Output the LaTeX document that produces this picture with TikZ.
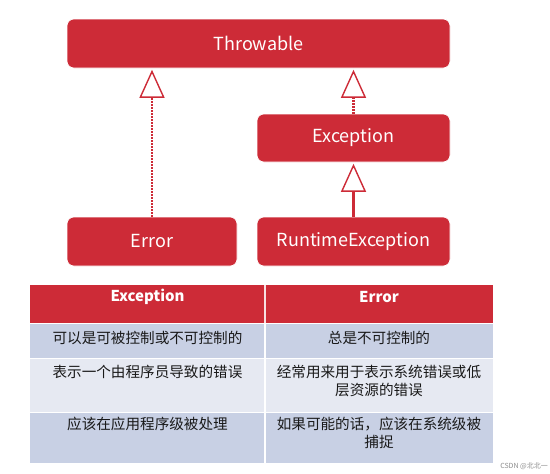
\documentclass[tikz,border=0pt]{standalone}
\usepackage{fontspec}
\setmainfont{Noto Sans CJK SC}
\usetikzlibrary{arrows.meta}
\definecolor{jred}{HTML}{CD2B37}
\definecolor{rowdark}{HTML}{C8D0E4}
\definecolor{rowlight}{HTML}{E6E9F2}
\begin{document}
\begin{tikzpicture}[x=1pt,y=-1pt,
  cls/.style={rectangle, rounded corners=7pt, fill=jred, draw=white, line width=0.6pt,
    text=white, font=\fontsize{18}{20}\selectfont, inner sep=0pt},
  inherit/.style={draw=jred, line width=2.2pt,
    -{Triangle[open, length=28pt, width=25pt, line width=1.4pt, fill=white]}, shorten >=1.5pt},
  dots/.style={dash pattern=on 1.6pt off 1.4pt},
  cell/.style={align=center, text width=215pt, font=\fontsize{14.6}{18}\selectfont, text=black!90, anchor=north, inner sep=0pt},
  head/.style={text=white, font=\fontsize{15}{18}\selectfont\bfseries, inner sep=0pt}]
\useasboundingbox (0,0) rectangle (550,474);
\fill[white] (0,0) rectangle (550,474);

% class boxes
\node[cls, minimum width=383pt, minimum height=49pt] (thr) at (258.5,43.5) {Throwable};
\node[cls, minimum width=193pt, minimum height=48pt] (exc) at (353.5,138) {Exception};
\node[cls, minimum width=170pt, minimum height=49pt] (err) at (152,241.5) {Error};
\node[cls, minimum width=193pt, minimum height=49pt] (rte) at (353.5,241.5) {RuntimeException};

% inheritance arrows
\draw[inherit, dots] (err.north) -- (err.north |- thr.south);
\draw[inherit, dots] (exc.north) -- (exc.north |- thr.south);
\draw[inherit] (rte.north) -- (exc.south);

% table
\fill[jred] (30,285) rectangle (493,323);
\fill[rowdark] (30,323) rectangle (493,358);
\fill[rowlight] (30,358) rectangle (493,412);
\fill[rowdark] (30,412) rectangle (493,463);
\draw[white, line width=1pt] (30,323) -- (493,323) (30,358) -- (493,358) (30,412) -- (493,412);
\draw[white!85!jred, line width=1.2pt] (265,285) -- (265,323);
\draw[white, line width=1.2pt] (265,323) -- (265,463);

\node[head] (h1) at (147.5,297) {Exception};
\node[head] (h2) at (379,297) {Error};

\node[cell] (a1) at (147.5,330.5) {可以是可被控制或不可控制的};
\node[cell] (b1) at (379,330.5) {总是不可控制的};
\node[cell] (a2) at (147.5,364.5) {表示一个由程序员导致的错误};
\node[cell] (b2) at (379,364.5) {经常用来用于表示系统错误或低\\层资源的错误};
\node[cell] (a3) at (147.5,416.5) {应该在应用程序级被处理};
\node[cell] (b3) at (379,416.5) {如果可能的话，应该在系统级被\\捕捉};

\node[text=black!45, font=\fontsize{7}{8}\selectfont, anchor=east, inner sep=0pt] (wm) at (548,466) {CSDN @北北一};
\end{tikzpicture}
\end{document}
